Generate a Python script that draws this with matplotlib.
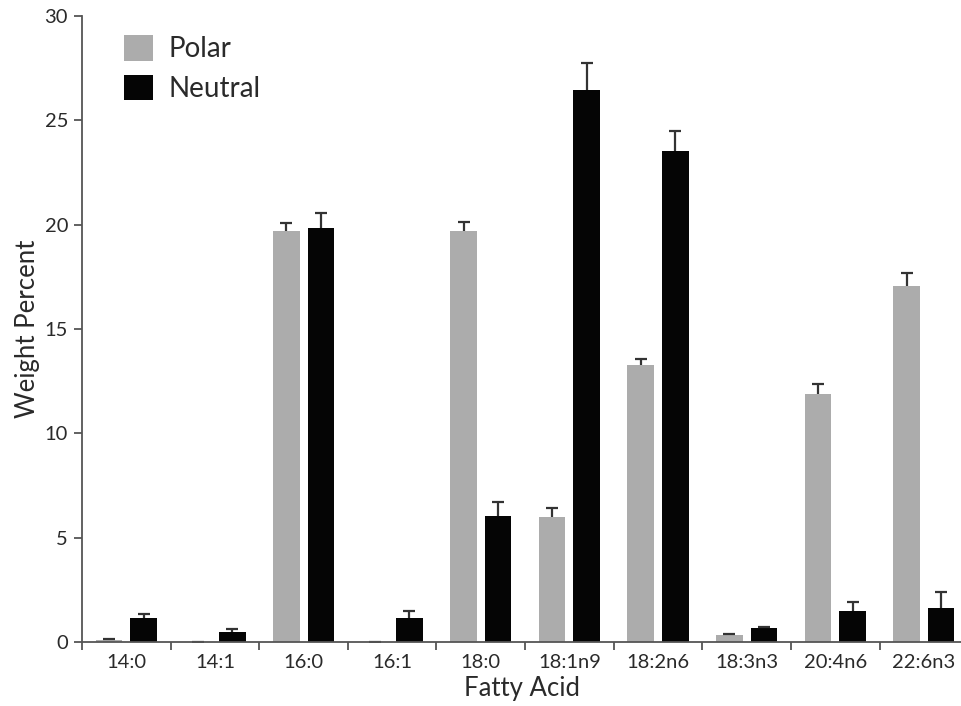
import numpy as np
import matplotlib
matplotlib.use("Agg")
import matplotlib.pyplot as plt
from matplotlib.patches import Patch

plt.rcParams['font.family'] = ['Lato', 'DejaVu Sans']

categories = ["14:0", "14:1", "16:0", "16:1", "18:0", "18:1n9", "18:2n6", "18:3n3", "20:4n6", "22:6n3"]
polar = [0.08, 0.02, 19.69, 0.02, 19.69, 5.99, 13.27, 0.32, 11.9, 17.08]
polar_err = [0.04, 0.0, 0.38, 0.0, 0.42, 0.42, 0.29, 0.06, 0.46, 0.6]
neutral = [1.16, 0.46, 19.84, 1.16, 6.05, 26.47, 23.51, 0.67, 1.5, 1.63]
neutral_err = [0.18, 0.17, 0.72, 0.32, 0.64, 1.28, 0.97, 0.06, 0.42, 0.78]
yticks = [0, 5, 10, 15, 20, 25, 30]

grey = "#acacac"
black = "#050505"
axis_col = "#555555"
text_col = "#2a2a2a"

fig = plt.figure(figsize=(9.62, 7.06), dpi=100)
ax = fig.add_axes([82 / 962, 1 - 642 / 706, 1 - 82 / 962, (642 - 16) / 706])

x = np.arange(len(categories))
w = 0.30
off = 0.195
err_kw = dict(ecolor="#333333", elinewidth=1.6, capsize=4.5, capthick=1.6)


def upper_only(container):
    # hide the cap that sits on top of the bar (zero lower error)
    caps = container.errorbar.lines[1]
    if caps:
        caps[0].set_visible(False)


bp = ax.bar(x - off, polar, w, color=grey, yerr=[np.zeros(len(x)), polar_err],
            error_kw=err_kw, zorder=2)
bn = ax.bar(x + off, neutral, w, color=black, yerr=[np.zeros(len(x)), neutral_err],
            error_kw=err_kw, zorder=2)
upper_only(bp)
upper_only(bn)

ax.set_xlim(-0.5, 9.43)
ax.set_ylim(0, 30)
ax.set_yticks(yticks)
ax.set_xticks(x)
ax.set_xticklabels(categories)
ax.set_xticks(np.arange(-0.5, 9.0, 1.0), minor=True)
ax.tick_params(axis="x", which="major", length=0, pad=9, labelsize=14.5, labelcolor=text_col)
ax.tick_params(axis="x", which="minor", length=6, width=1.3, color=axis_col, direction="out")
ax.tick_params(axis="y", length=6, width=1.3, color=axis_col, labelsize=14.5,
               labelcolor=text_col, pad=4)

for s in ("top", "right"):
    ax.spines[s].set_visible(False)
for s in ("left", "bottom"):
    ax.spines[s].set_color(axis_col)
    ax.spines[s].set_linewidth(1.3)

ax.set_xlabel("Fatty Acid", fontsize=18.5, color=text_col, labelpad=3)
ax.set_ylabel("Weight Percent", fontsize=18.5, color=text_col, labelpad=3)

handles = [Patch(facecolor=grey, edgecolor="none", label="Polar"),
           Patch(facecolor=black, edgecolor="none", label="Neutral")]
ax.legend(handles=handles, loc="upper left", bbox_to_anchor=(0.019, 1.01),
          frameon=False, fontsize=20, handlelength=1.05, handleheight=1.05,
          handletextpad=0.55, labelspacing=0.45, labelcolor=text_col)

fig.savefig("out.png", dpi=100)
